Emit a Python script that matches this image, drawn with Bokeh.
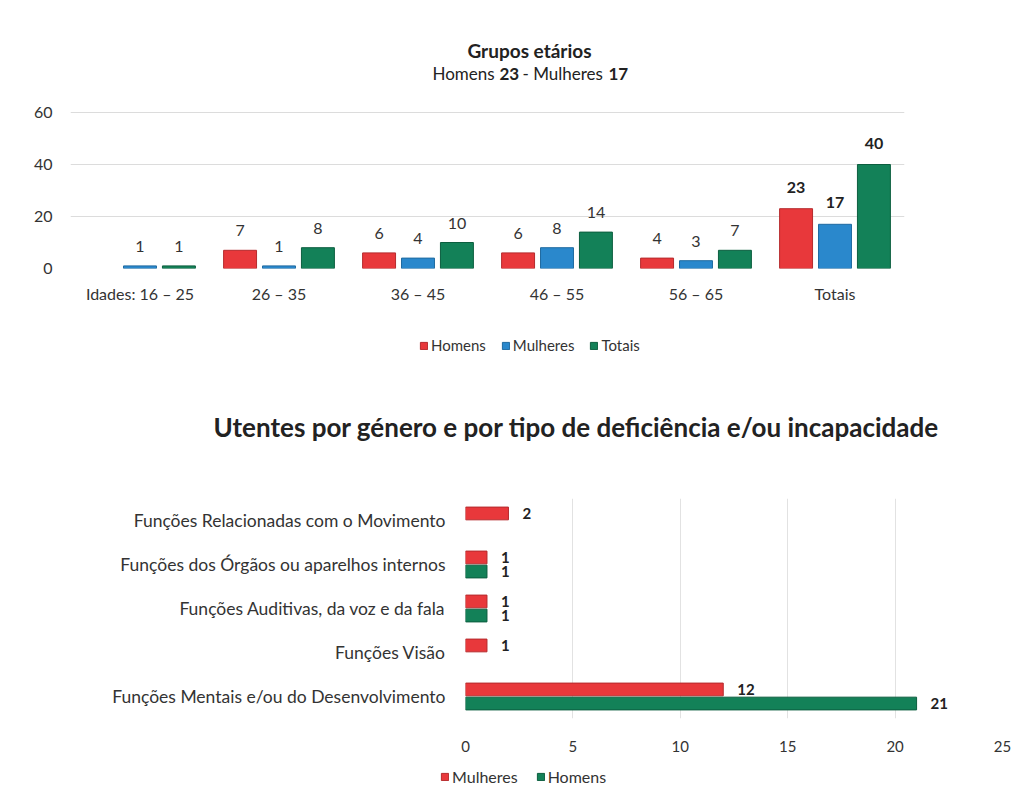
from bokeh.plotting import figure
from bokeh.models import (FactorRange, Range1d, Label, Legend, LegendItem,
                          FixedTicker, ColumnDataSource, Title)
from bokeh.transform import dodge
from bokeh.embed import file_html
from bokeh.resources import INLINE
from bokeh.core.properties import value

FONT = "Lato"
TXT = "#333333"
DARK = "#222222"
RED = "#E8383B"
BLUE = "#2A88CC"
GREEN = "#138158"
RED_L = "#B52A2D"
BLUE_L = "#1F6AA0"
GREEN_L = "#0C5E3F"
W = 1031

# ---------------- data: chart 1 ----------------
age_groups = ["Idades: 16 – 25", "26 – 35", "36 – 45", "46 – 55", "56 – 65", "Totais"]
homens_age = [0, 7, 6, 6, 4, 23]
mulheres_age = [1, 1, 4, 8, 3, 17]
totais_age = [1, 8, 10, 14, 7, 40]
age_ticks = [0, 20, 40, 60]

# ---------------- data: chart 2 ----------------
def_types = ["Funções Relacionadas com o Movimento",
             "Funções dos Órgãos ou aparelhos internos",
             "Funções Auditivas, da voz e da fala",
             "Funções Visão",
             "Funções Mentais e/ou do Desenvolvimento"]
mulheres_def = [2, 1, 1, 1, 12]
homens_def = [0, 1, 1, 0, 21]
def_ticks = [0, 5, 10, 15, 20, 25]


def src(cats, vals, keep=lambda c: True):
    pairs = [(c, v) for c, v in zip(cats, vals) if v > 0 and keep(c)]
    return ColumnDataSource(dict(cat=[c for c, _ in pairs],
                                 val=[v for _, v in pairs],
                                 lab=[str(v) for _, v in pairs]))


def style_axes(p):
    for ax in (p.xaxis[0], p.yaxis[0]):
        ax.axis_line_color = None
        ax.major_tick_line_color = None
        ax.minor_tick_line_color = None
        ax.major_label_text_font = FONT
        ax.major_label_text_color = TXT
    p.outline_line_color = None


def legend_strip(height, series, loc, font_size, spacing, label_h):
    """A thin figure that only carries a legend (keeps it unclipped)."""
    s = figure(width=W, height=height, x_range=Range1d(0, W),
               y_range=Range1d(0, height), x_axis_type=None, y_axis_type=None,
               output_backend="svg", toolbar_location=None,
               min_border_left=0, min_border_right=0, min_border_top=0,
               min_border_bottom=0)
    s.outline_line_color = None
    items = []
    for name, col, lcol in series:
        # legend-only renderer: its single bar lies far outside the visible range
        r = s.vbar(x=[-5000], top=[-5000], bottom=[-5001], width=1,
                   fill_color=col, line_color=lcol)
        items.append(LegendItem(label=name, renderers=[r]))
    leg = Legend(items=items, orientation="horizontal", location=loc,
                 glyph_width=9, glyph_height=9, label_standoff=3,
                 spacing=spacing, padding=0, margin=0, border_line_alpha=0,
                 background_fill_alpha=0, label_text_font=FONT,
                 label_text_font_size=font_size, label_text_color=TXT,
                 label_height=label_h)
    s.add_layout(leg)
    return s


# ================= Chart 1 =================
p1 = figure(x_range=FactorRange(*age_groups), y_range=Range1d(0, 91.54),
            width=W, height=312, output_backend="svg", toolbar_location=None,
            min_border_left=70, min_border_right=127, min_border_top=30,
            min_border_bottom=44)
style_axes(p1)
p1.xgrid.grid_line_color = None
p1.ygrid.grid_line_color = "#dcdcdc"
p1.yaxis.ticker = FixedTicker(ticks=age_ticks)
p1.yaxis.major_label_text_font_size = "16px"
p1.yaxis.major_label_standoff = 12
p1.xaxis.major_label_text_font_size = "16px"
p1.xaxis.major_label_standoff = 9
p1.x_range.range_padding = 0

series1 = [("Homens", homens_age, -0.28, RED, RED_L),
           ("Mulheres", mulheres_age, 0.0, BLUE, BLUE_L),
           ("Totais", totais_age, 0.28, GREEN, GREEN_L)]
for name, vals, off, col, lcol in series1:
    s = src(age_groups, vals)
    p1.vbar(x=dodge("cat", off, range=p1.x_range), top="val", width=0.237,
            source=s, fill_color=col, line_color=lcol, line_width=1)
    sn = src(age_groups, vals, keep=lambda c: c != "Totais")
    sb = src(age_groups, vals, keep=lambda c: c == "Totais")
    p1.text(x=dodge("cat", off, range=p1.x_range), y="val", text="lab", source=sn,
            text_align="center", text_baseline="bottom", y_offset=-14,
            text_font=value(FONT), text_font_size="16px", text_color=TXT)
    p1.text(x=dodge("cat", off, range=p1.x_range), y="val", text="lab", source=sb,
            text_align="center", text_baseline="bottom", y_offset=-16,
            text_font=value(FONT), text_font_size="16px", text_font_style="bold",
            text_color=DARK)

p1.add_layout(Label(x=459, y=218, x_units="screen", y_units="screen",
                    text="Grupos etários", text_align="center",
                    text_baseline="middle", text_font=FONT,
                    text_font_size="19px", text_font_style="bold",
                    text_color=DARK))
sub_parts = [("Homens", 362, "normal"), ("23", 429, "bold"),
             ("- Mulheres", 452, "normal"), ("17", 538, "bold")]
for t, xx, fs in sub_parts:
    p1.add_layout(Label(x=xx, y=195, x_units="screen", y_units="screen",
                        text=t, text_align="left", text_baseline="middle",
                        text_font=FONT, text_font_size="17px",
                        text_font_style=fs, text_color=DARK))

s1 = legend_strip(42, [(n, c, l) for n, _, _, c, l in series1], (419, 0),
                  "15px", 15, 14)

# ================= Chart 2 =================
p2 = figure(y_range=FactorRange(*reversed(def_types)), x_range=Range1d(0, 25),
            width=W, height=400, output_backend="svg", toolbar_location=None,
            min_border_left=465, min_border_right=29, min_border_top=144,
            min_border_bottom=36)
style_axes(p2)
p2.ygrid.grid_line_color = None
p2.xgrid.grid_line_color = "#e2e2e2"
p2.xaxis.ticker = FixedTicker(ticks=def_ticks)
p2.xaxis.major_label_text_font_size = "15px"
p2.xaxis.major_label_standoff = 16
p2.yaxis.major_label_text_font_size = "17.5px"
p2.yaxis.major_label_standoff = 14
p2.y_range.range_padding = 0

series2 = [("Mulheres", mulheres_def, 0.16, RED, RED_L),
           ("Homens", homens_def, -0.16, GREEN, GREEN_L)]
for name, vals, off, col, lcol in series2:
    s = src(def_types, vals)
    p2.hbar(y=dodge("cat", off, range=p2.y_range), right="val", left=0,
            height=0.29, source=s, fill_color=col, line_color=lcol,
            line_width=1)
    p2.text(x="val", y=dodge("cat", off, range=p2.y_range), text="lab",
            source=s, text_align="left", text_baseline="middle", x_offset=14,
            text_font=value(FONT), text_font_size="15px",
            text_font_style="bold", text_color=DARK)

p2.add_layout(Title(text="Utentes por género e por tipo de deficiência e/ou incapacidade",
                    align="left", offset=-252, vertical_align="middle",
                    standoff=110, text_font=FONT, text_font_size="26px",
                    text_font_style="bold", text_color=DARK), "above")

s2 = legend_strip(50, [(n, c, l) for n, _, _, c, l in series2], (440, 18),
                  "16px", 18, 16)

open("out.html", "w").write(file_html([p1, s1, p2, s2], INLINE))
